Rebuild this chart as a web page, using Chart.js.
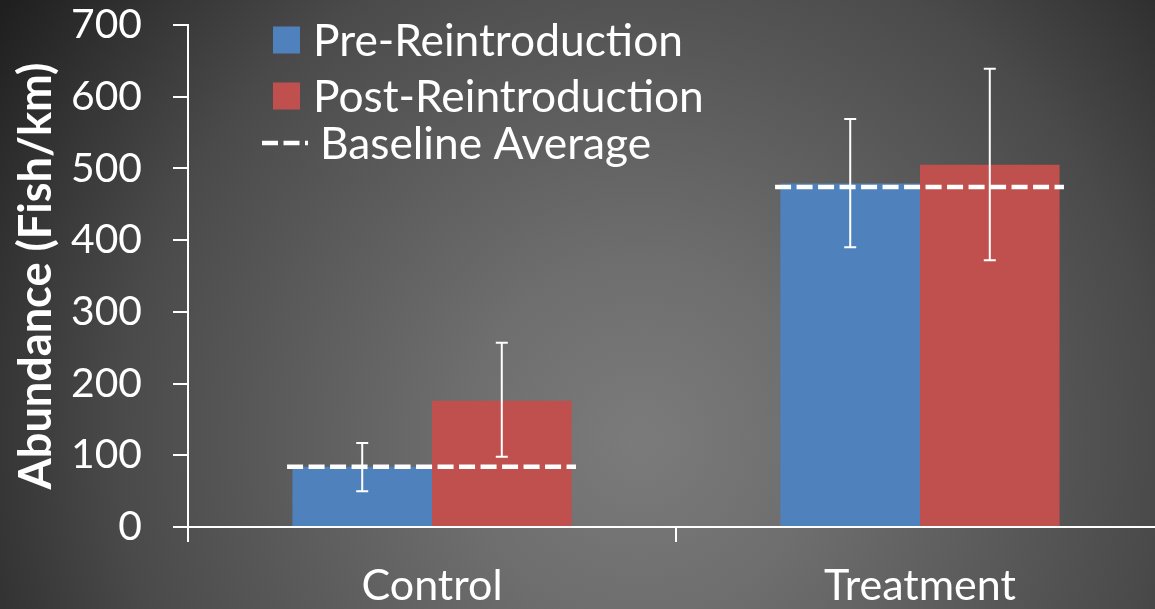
<!DOCTYPE html>
<html><head><meta charset="utf-8">
<script src="https://cdn.jsdelivr.net/npm/chart.js@4.4.1/dist/chart.umd.min.js"></script>
<style>
html,body{margin:0;padding:0;width:1155px;height:609px;overflow:hidden;}
body{background: radial-gradient(circle at 640px 440px, #7b7b7b 0px, #6e6e6e 180px, #4a4a4a 520px, #363636 640px, #1f1f1f 770px);}
#wrap{position:relative;width:1164px;height:609px;}
canvas{display:block;}
</style></head><body>
<div id="wrap"><canvas id="c" width="1164" height="609" style="width:1164px;height:609px"></canvas></div>
<script>
const categories = ['Control', 'Treatment'];
const seriesLabels = ['Pre-Reintroduction', 'Post-Reintroduction'];
const baselineLabel = 'Baseline Average';
const preValues = [84, 479];
const postValues = [176, 505];
const preErrLow = [50, 390];
const preErrHigh = [117, 569];
const postErrLow = [98, 372];
const postErrHigh = [257, 639];
const baselineValues = [84, 474];
const yTickValues = [0, 100, 200, 300, 400, 500, 600, 700];
const yTitle = 'Abundance (Fish/km)';

const FAMILY = 'Lato';
function fitSize(text, weight, target) {
  const c = document.createElement('canvas').getContext('2d');
  c.font = weight + ' 100px ' + FAMILY;
  return 100 * target / c.measureText(text).width;
}
const tickSize = fitSize('700', 'normal', 71);
const catSize = fitSize('Treatment', 'normal', 192);
const legendSize = fitSize('Pre-Reintroduction', 'normal', 370);
const titleSize = fitSize(yTitle, 'bold', 427);

const errLow = [preErrLow, postErrLow];
const errHigh = [preErrHigh, postErrHigh];

const errorBarPlugin = {
  id: 'errorBars',
  afterDatasetsDraw(chart) {
    const ctx = chart.ctx, y = chart.scales.y, x = chart.scales.x;
    const catW = x.width / categories.length;
    ctx.save();
    ctx.strokeStyle = '#ffffff';
    ctx.lineWidth = 4.5;
    ctx.setLineDash([16, 5.5]);
    baselineValues.forEach((v, j) => {
      const cx = x.getPixelForValue(j);
      const py = y.getPixelForValue(v);
      ctx.beginPath();
      ctx.moveTo(cx - 0.297 * catW, py);
      ctx.lineTo(cx + 0.295 * catW, py);
      ctx.stroke();
    });
    ctx.restore();
    ctx.save();
    ctx.strokeStyle = '#ffffff';
    ctx.lineWidth = 2;
    [0, 1].forEach(i => {
      const meta = chart.getDatasetMeta(i);
      meta.data.forEach((el, j) => {
        const lo = y.getPixelForValue(errLow[i][j]);
        const hi = y.getPixelForValue(errHigh[i][j]);
        ctx.beginPath();
        ctx.moveTo(el.x, lo); ctx.lineTo(el.x, hi);
        ctx.moveTo(el.x - 6, lo); ctx.lineTo(el.x + 6, lo);
        ctx.moveTo(el.x - 6, hi); ctx.lineTo(el.x + 6, hi);
        ctx.stroke();
      });
    });
    ctx.restore();
  }
};

const legendPlugin = {
  id: 'customLegend',
  afterDraw(chart) {
    const ctx = chart.ctx;
    ctx.save();
    ctx.font = 'normal ' + legendSize + 'px ' + FAMILY;
    ctx.textBaseline = 'middle';
    ctx.fillStyle = '#ffffff';
    const rows = [40, 96, 143];
    chart.data.datasets.forEach((ds, i) => {
      ctx.fillStyle = ds.backgroundColor;
      ctx.fillRect(273, rows[i] - 13.5, 27, 27);
      ctx.fillStyle = '#ffffff';
      ctx.fillText(ds.label, 313, rows[i] + 2);
    });
    ctx.strokeStyle = '#ffffff';
    ctx.lineWidth = 4.5;
    ctx.setLineDash([16, 5.5]);
    ctx.beginPath();
    ctx.moveTo(262, rows[2]); ctx.lineTo(308, rows[2]);
    ctx.stroke();
    ctx.setLineDash([]);
    ctx.fillText(baselineLabel, 320, rows[2] + 2);
    ctx.restore();
  }
};

new Chart(document.getElementById('c'), {
  type: 'bar',
  data: {
    labels: categories,
    datasets: [
      { label: seriesLabels[0], data: preValues, backgroundColor: '#4F81BD', borderWidth: 0 },
      { label: seriesLabels[1], data: postValues, backgroundColor: '#C0504D', borderWidth: 0 }
    ]
  },
  options: {
    responsive: false,
    animation: false,
    events: [],
    categoryPercentage: 0.572,
    barPercentage: 1,
    layout: { padding: { top: 25, right: 0, left: 0, bottom: 0 }, autoPadding: false },
    plugins: { legend: { display: false }, tooltip: { enabled: false } },
    scales: {
      x: {
        offset: true,
        grid: { offset: true, drawOnChartArea: false, drawTicks: true, tickLength: 15, color: '#ffffff', lineWidth: 2 },
        border: { color: '#ffffff', width: 2 },
        ticks: { color: '#ffffff', font: { family: FAMILY, size: catSize }, padding: 18 },
        afterFit(s) { s.height = 82; s.paddingLeft = 0; s.paddingRight = 0; }
      },
      y: {
        min: 0, max: 700,
        afterBuildTicks(s) { s.ticks = yTickValues.map(v => ({ value: v })); },
        grid: { drawOnChartArea: false, drawTicks: true, tickLength: 15, color: '#ffffff', lineWidth: 2 },
        border: { color: '#ffffff', width: 2 },
        ticks: { color: '#ffffff', font: { family: FAMILY, size: tickSize }, padding: 31 },
        title: { display: true, text: yTitle, color: '#ffffff', font: { family: FAMILY, size: titleSize, weight: 'bold', lineHeight: 1 }, padding: { top: 36 - titleSize / 2, bottom: 0 } },
        afterFit(s) { s.width = 188; s.paddingTop = 0; s.paddingBottom = 0; }
      }
    }
  },
  plugins: [errorBarPlugin, legendPlugin]
});
</script>
</body></html>
